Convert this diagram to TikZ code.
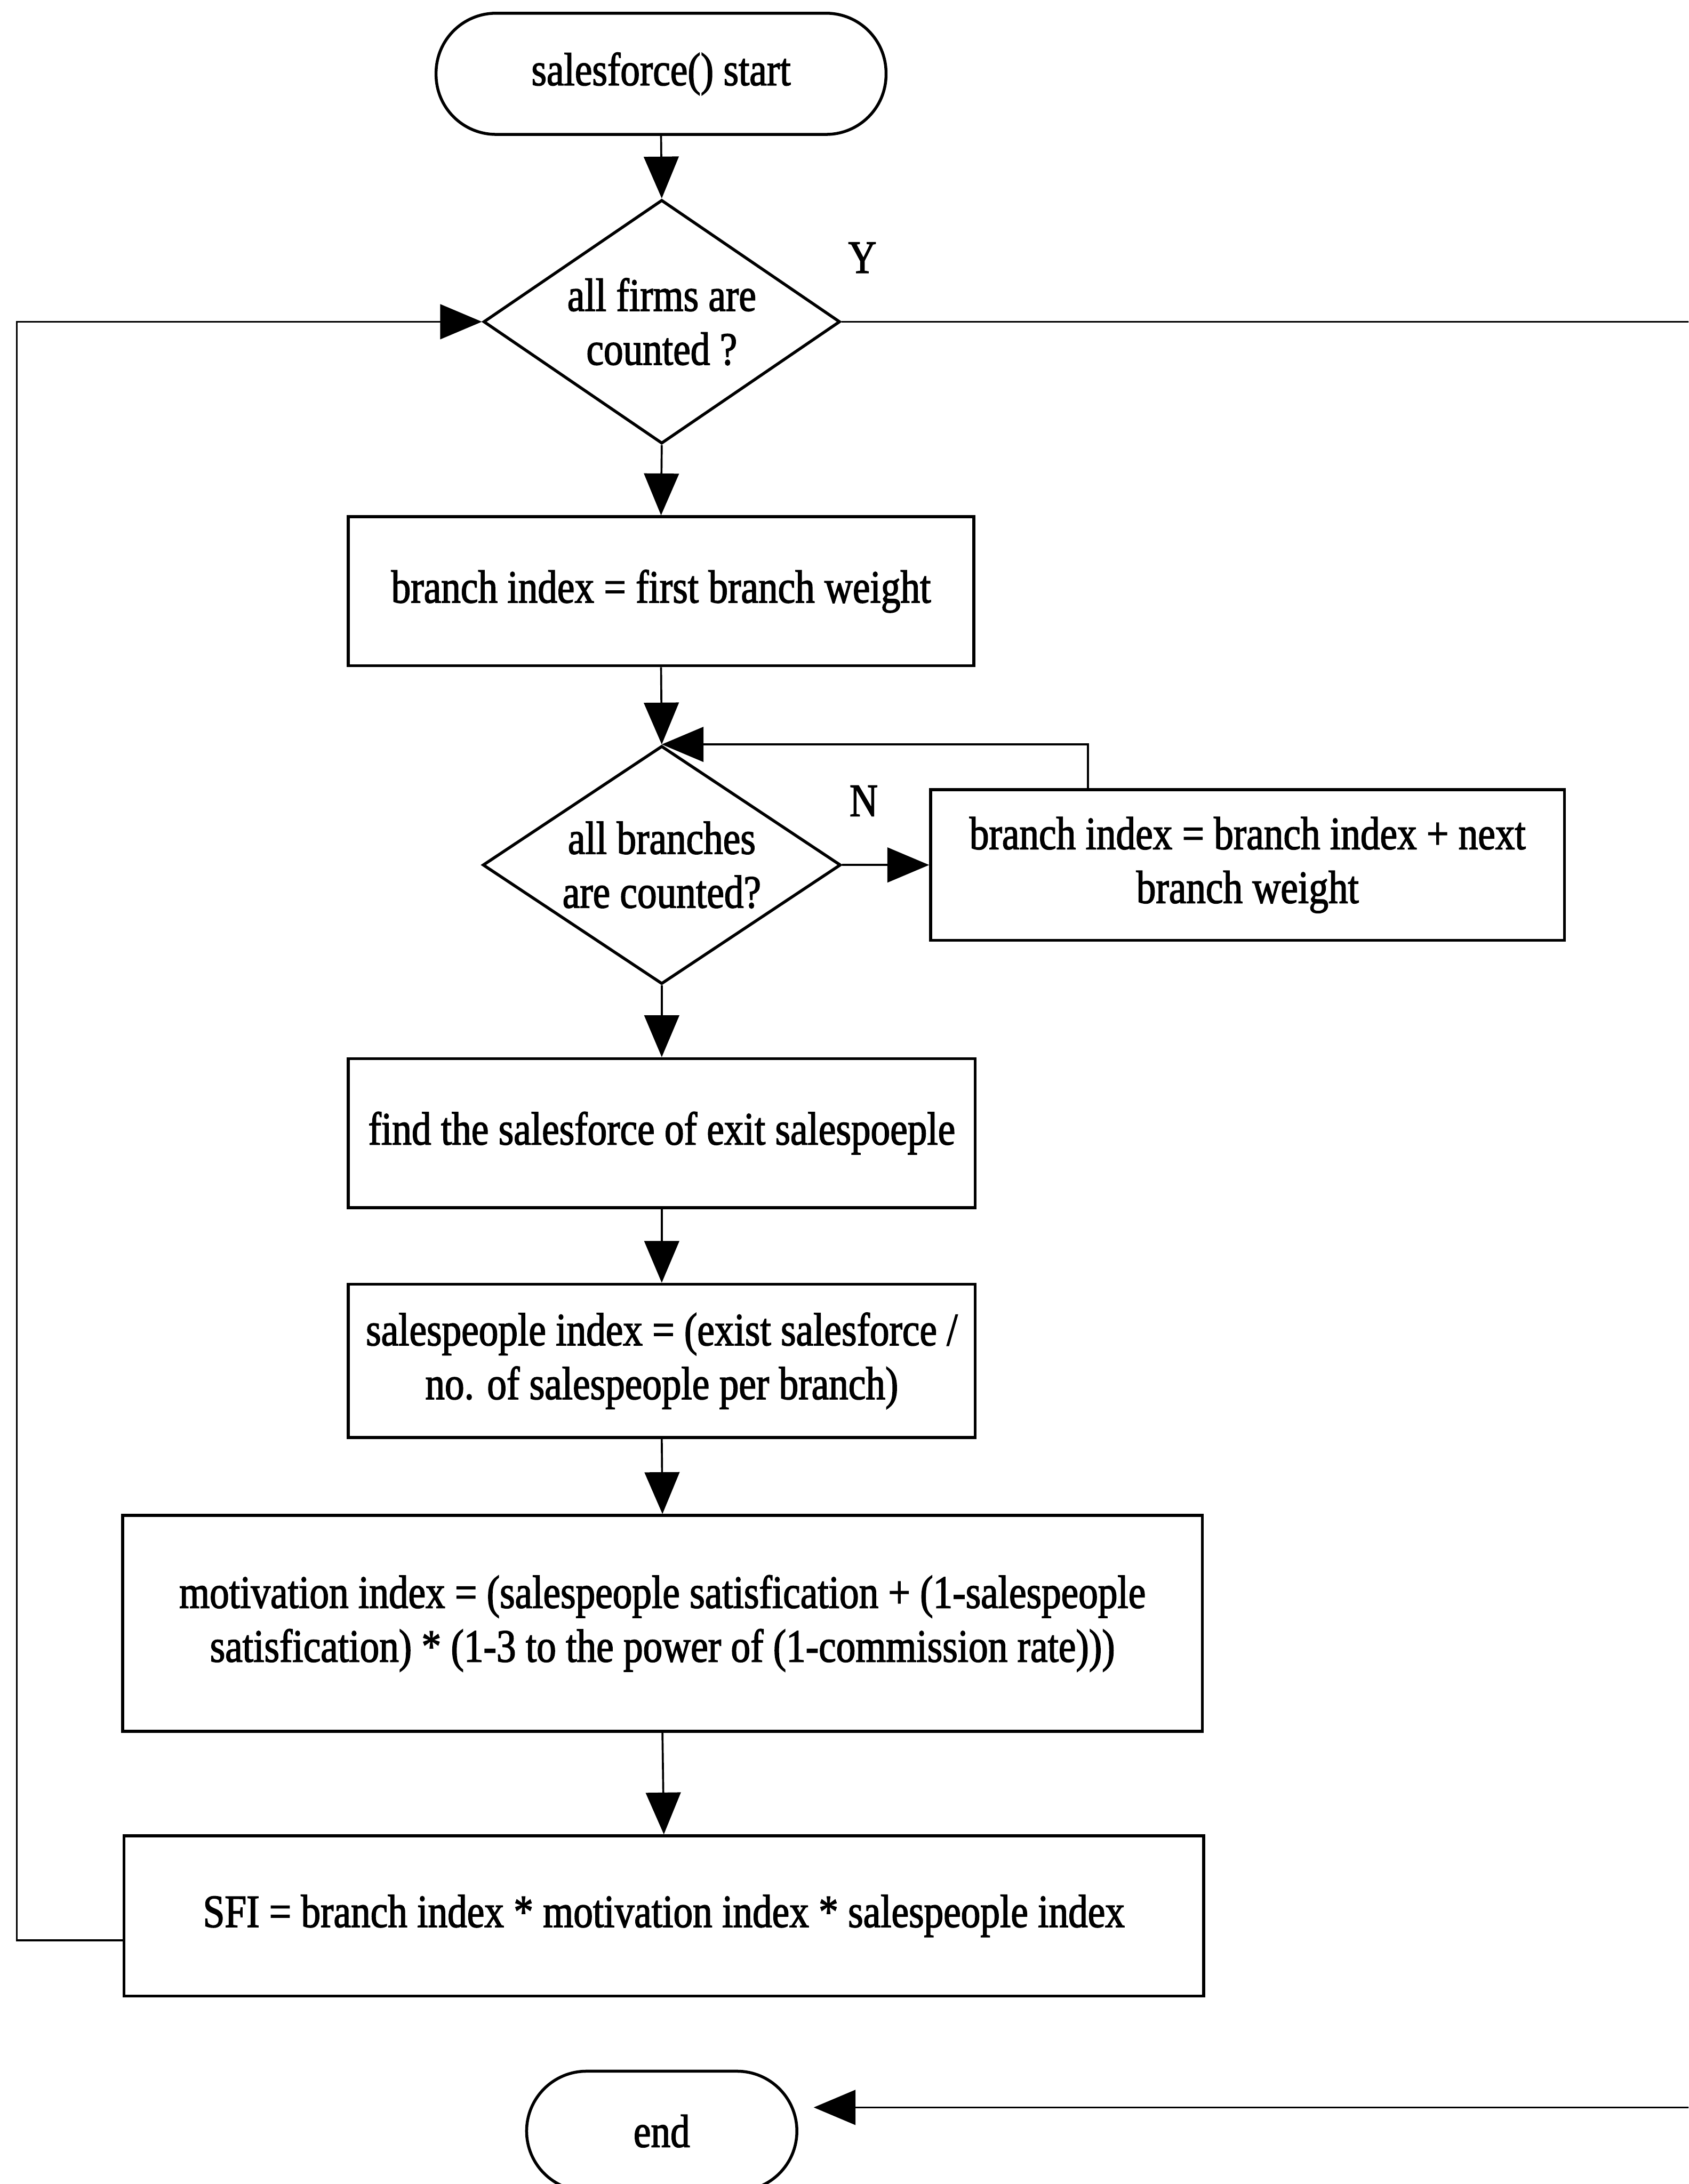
\documentclass[tikz,border=0pt]{standalone}
\usepackage{fontspec}
\setmainfont{Liberation Serif}[FakeStretch=0.84,FakeBold=1.8]
\usetikzlibrary{arrows.meta,positioning,shapes.geometric}

\begin{document}
\begin{tikzpicture}[>={Triangle[length=6mm,width=5mm]},
  every node/.style={font=\fontsize{19}{22}\selectfont},
  box/.style={draw,line width=1.2pt,align=center,inner sep=2pt},
  decision/.style={draw,diamond,aspect=1.5,line width=1.2pt,align=center,inner sep=0pt},
  terminal/.style={draw,line width=1.2pt,rounded corners=8.6mm,align=center},
  arr/.style={->,line width=0.8pt}]
\path[use as bounding box,clip] (0,0) rectangle (24.24,-31.36);
% main column
\node[terminal,minimum width=6.46cm,minimum height=1.74cm] (start) at (9.49,-1.06) {salesforce() start};
\node[decision,minimum width=5.12cm,minimum height=3.5cm] (firms) at (9.5,-4.62) {all firms are\\counted ?};
\node[box,minimum width=8.98cm,minimum height=2.14cm] (bidx) at (9.49,-8.49) {branch index = first branch weight};
\node[decision,minimum width=5.14cm,minimum height=3.42cm] (branches) at (9.5,-12.42) {all branches\\are counted?};
\node[box,minimum width=9.1cm,minimum height=2.16cm] (bnext) at (17.91,-12.42) {branch index = branch index + next\\branch weight};
\node[box,minimum width=9.0cm,minimum height=2.14cm] (exitsf) at (9.5,-16.27) {find the salesforce of exit salespoeple};
\node[box,minimum width=9.0cm,minimum height=2.2cm] (spidx) at (9.5,-19.54) {salespeople index = (exist salesforce /\\no. of salespeople per branch)};
\node[box,minimum width=15.5cm,minimum height=3.1cm] (motiv) at (9.51,-23.31) {motivation index = (salespeople satisfication + (1-salespeople\\satisfication) * (1-3 to the power of (1-commission rate)))};
\node[box,minimum width=15.5cm,minimum height=2.3cm] (sfi) at (9.53,-27.51) {SFI = branch index * motivation index * salespeople index};
\node[terminal,minimum width=3.88cm,minimum height=1.72cm] (stop) at (9.5,-30.6) {end};
% branch labels
\node (ylab) at (12.38,-3.7) {Y};
\node (nlab) at (12.4,-11.5) {N};
\coordinate (lx) at (0.24,0);
\coordinate (rx) at (25,0);
% connectors
\draw[arr] (start.south)--(firms.north);
\draw[arr] (firms.south)--(bidx.north);
\draw[arr] (bidx.south)--(branches.north);
\draw[arr] (branches.east)--(bnext.west);
\draw[arr] ([xshift=-2.29cm]bnext.north) |- (branches.north);
\draw[arr] (branches.south)--(exitsf.north);
\draw[arr] (exitsf.south)--(spidx.north);
\draw[arr] (spidx.south)--(motiv.north);
\draw[arr] (motiv.south)--(sfi.north);
\draw[arr] ([yshift=-0.35cm]sfi.west) -| (lx |- firms.west) -- (firms.west);
\draw[arr] (firms.east) -- (rx |- firms.east) |- ([xshift=0.22cm,yshift=0.34cm]stop.east);
\end{tikzpicture}
\end{document}
